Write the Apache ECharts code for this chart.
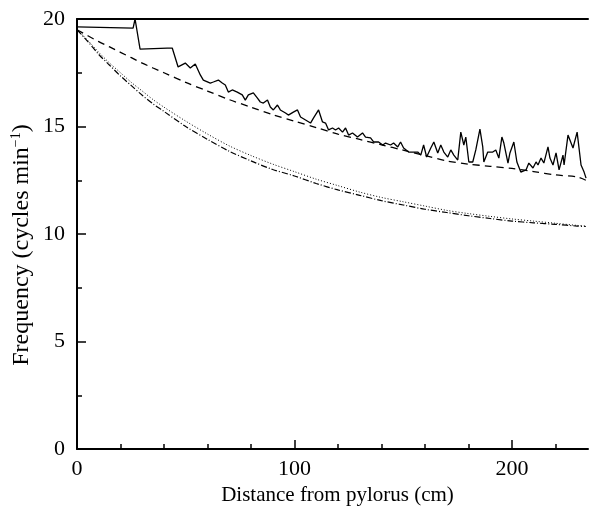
<!DOCTYPE html>
<html>
<head>
<meta charset="utf-8">
<script src="https://cdn.jsdelivr.net/npm/echarts@6/dist/echarts.min.js"></script>
<style>html,body{margin:0;padding:0;background:#fff}#c{width:592px;height:511px}</style>
</head>
<body>
<div id="c"></div>
<script>
const xTicks = [0, 100, 200];
const xMinorTicks = [20, 40, 60, 80, 120, 140, 160, 180, 220];
const yTicks = [0, 5, 10, 15, 20];

const measuredX = [0,25.8,26.7,29.0,41.5,43.8,46.5,49.8,52.1,54.4,56.7,58.1,59.0,61.3,62.7,65.0,66.8,68.2,69.6,71.4,73.7,76.0,77.4,78.8,81.1,82.9,84.3,85.7,87.6,88.9,90.3,92.2,93.5,95.9,97.2,99.5,101.4,102.8,105.1,107.4,108.8,111.1,112.9,114.3,115.7,117.5,118.9,120.3,122.1,123.5,124.9,126.7,129.0,131.3,132.7,135.0,136.4,138.7,140.6,141.9,144.2,145.6,147.5,148.8,150.2,152.5,154.8,156.7,158.1,159.4,160.8,162.7,164.1,165.9,167.3,168.7,170.5,171.9,173.3,175.1,176.5,177.9,178.8,180.2,182.0,183.4,185.3,186.6,187.1,188.9,191.2,192.6,194.0,195.4,196.3,198.2,199.1,200.9,202.3,204.1,206.5,207.8,209.7,211.1,212.0,213.4,214.7,216.6,217.5,218.9,220.3,221.7,223.5,224.0,225.8,228.1,230.0,231.8,233.2,234.1];
const measuredY = [19.63,19.58,20.0,18.6,18.65,18.65,17.77,17.95,17.72,17.91,17.4,17.16,17.16,17.02,17.07,17.16,17.02,16.93,16.6,16.7,16.6,16.47,16.23,16.47,16.56,16.33,16.14,16.09,16.23,15.91,15.77,16.0,15.77,15.63,15.53,15.67,15.77,15.44,15.3,15.16,15.4,15.77,15.21,15.16,14.84,14.93,14.84,14.93,14.74,14.93,14.6,14.7,14.51,14.7,14.51,14.47,14.28,14.28,14.14,14.23,14.14,14.23,14.05,14.28,14.0,13.81,13.81,13.81,13.67,14.14,13.58,14.0,14.28,13.77,14.14,13.81,13.58,13.91,13.67,13.44,14.74,14.14,14.51,13.35,13.35,13.91,14.88,14.05,13.35,13.81,13.81,13.91,13.53,14.51,14.23,13.3,13.77,14.28,13.35,12.88,12.98,13.3,13.07,13.35,13.21,13.53,13.3,14.05,13.53,13.21,13.77,12.98,13.67,13.21,14.6,14.0,14.74,13.21,12.88,12.6];

const smoothX = [0,5,10,15,20,25,30,35,40,50,60,70,80,90,100,110,120,130,140,150,160,170,180,190,200,210,220,230,234];
const dashedY = [19.5,19.22,18.95,18.7,18.45,18.2,17.95,17.72,17.5,17.05,16.65,16.25,15.9,15.55,15.25,14.95,14.65,14.4,14.15,13.9,13.65,13.4,13.25,13.15,13.05,12.9,12.75,12.65,12.5];
const dottedY = [19.5,19.0,18.45,17.95,17.5,17.05,16.65,16.25,15.9,15.25,14.65,14.1,13.65,13.25,12.9,12.55,12.25,11.95,11.7,11.5,11.3,11.1,10.95,10.82,10.7,10.6,10.5,10.4,10.37];
const dashDotY = [19.5,18.95,18.35,17.85,17.35,16.9,16.45,16.05,15.7,15.0,14.4,13.85,13.4,13.0,12.7,12.35,12.05,11.8,11.55,11.35,11.15,11.0,10.85,10.72,10.6,10.52,10.45,10.37,10.35];

const zip = (xs, ys) => xs.map((x, i) => [x, ys[i]]);
const FONT = 'Liberation Serif';
const X_MAX = 235;

const chart = echarts.init(document.getElementById('c'), null, {renderer: 'canvas'});
chart.setOption({
  animation: false,
  backgroundColor: '#fff',
  grid: {left: 77, right: 4, top: 19, bottom: 62, containLabel: false},
  graphic: [{
    type: 'text', x: 22, y: 245, rotation: Math.PI / 2,
    style: {
      text: '{a|Frequency (cycles min}{s|−1}{a|)}',
      align: 'center', verticalAlign: 'middle',
      fontFamily: FONT, fill: '#000',
      rich: {a: {fontFamily: FONT, fontSize: 24, fill: '#000'},
             s: {fontFamily: FONT, fontSize: 14, fill: '#000', verticalAlign: 'top', padding: [0, 0, 12, 0]}}
    }
  }],
  xAxis: [{
    type: 'value', min: 0, max: X_MAX, position: 'bottom',
    name: 'Distance from pylorus (cm)', nameLocation: 'middle', nameGap: 36,
    nameTextStyle: {fontFamily: FONT, fontSize: 21, color: '#000', padding: [0, 0, 0, 10]},
    axisLine: {show: true, onZero: false, lineStyle: {color: '#000', width: 2}},
    axisTick: {show: true, inside: true, length: 9, customValues: xTicks, lineStyle: {color: '#000', width: 1.5}},
    axisLabel: {fontFamily: FONT, fontSize: 22, color: '#000', margin: 9, customValues: xTicks},
    splitLine: {show: false}
  }, {
    type: 'value', min: 0, max: X_MAX, position: 'top',
    axisLine: {show: true, onZero: false, lineStyle: {color: '#000', width: 2}},
    axisTick: {show: false}, axisLabel: {show: false}, splitLine: {show: false}
  }, {
    type: 'value', min: 0, max: X_MAX, position: 'bottom', offset: 0,
    axisLine: {show: false, onZero: false},
    axisTick: {show: true, inside: true, length: 5, customValues: xMinorTicks, lineStyle: {color: '#000', width: 1.5}},
    axisLabel: {show: false}, splitLine: {show: false}
  }],
  yAxis: {
    type: 'value', min: 0, max: 20, interval: 5,
    axisLine: {show: true, onZero: false, lineStyle: {color: '#000', width: 2}},
    axisTick: {show: true, inside: true, length: 9, lineStyle: {color: '#000', width: 1.5}},
    minorTick: {show: true, splitNumber: 2, length: 5, lineStyle: {color: '#000', width: 1.5}},
    axisLabel: {fontFamily: FONT, fontSize: 22, color: '#000', margin: 12,
      formatter: v => yTicks.includes(v) ? String(v) : ''},
    splitLine: {show: false}, minorSplitLine: {show: false}
  },
  series: [
    {type: 'line', data: zip(measuredX, measuredY), showSymbol: false, symbol: 'none',
      lineStyle: {color: '#000', width: 1.3}},
    {type: 'line', data: zip(smoothX, dashedY), showSymbol: false, symbol: 'none', smooth: 0.3,
      lineStyle: {color: '#000', width: 1.3, type: [7, 5]}},
    {type: 'line', data: zip(smoothX, dottedY), showSymbol: false, symbol: 'none', smooth: 0.3,
      lineStyle: {color: '#000', width: 1, type: [1, 2]}},
    {type: 'line', data: zip(smoothX, dashDotY), showSymbol: false, symbol: 'none', smooth: 0.3,
      lineStyle: {color: '#000', width: 1.2, type: [6, 2, 1, 2]}}
  ]
});
</script>
</body>
</html>
